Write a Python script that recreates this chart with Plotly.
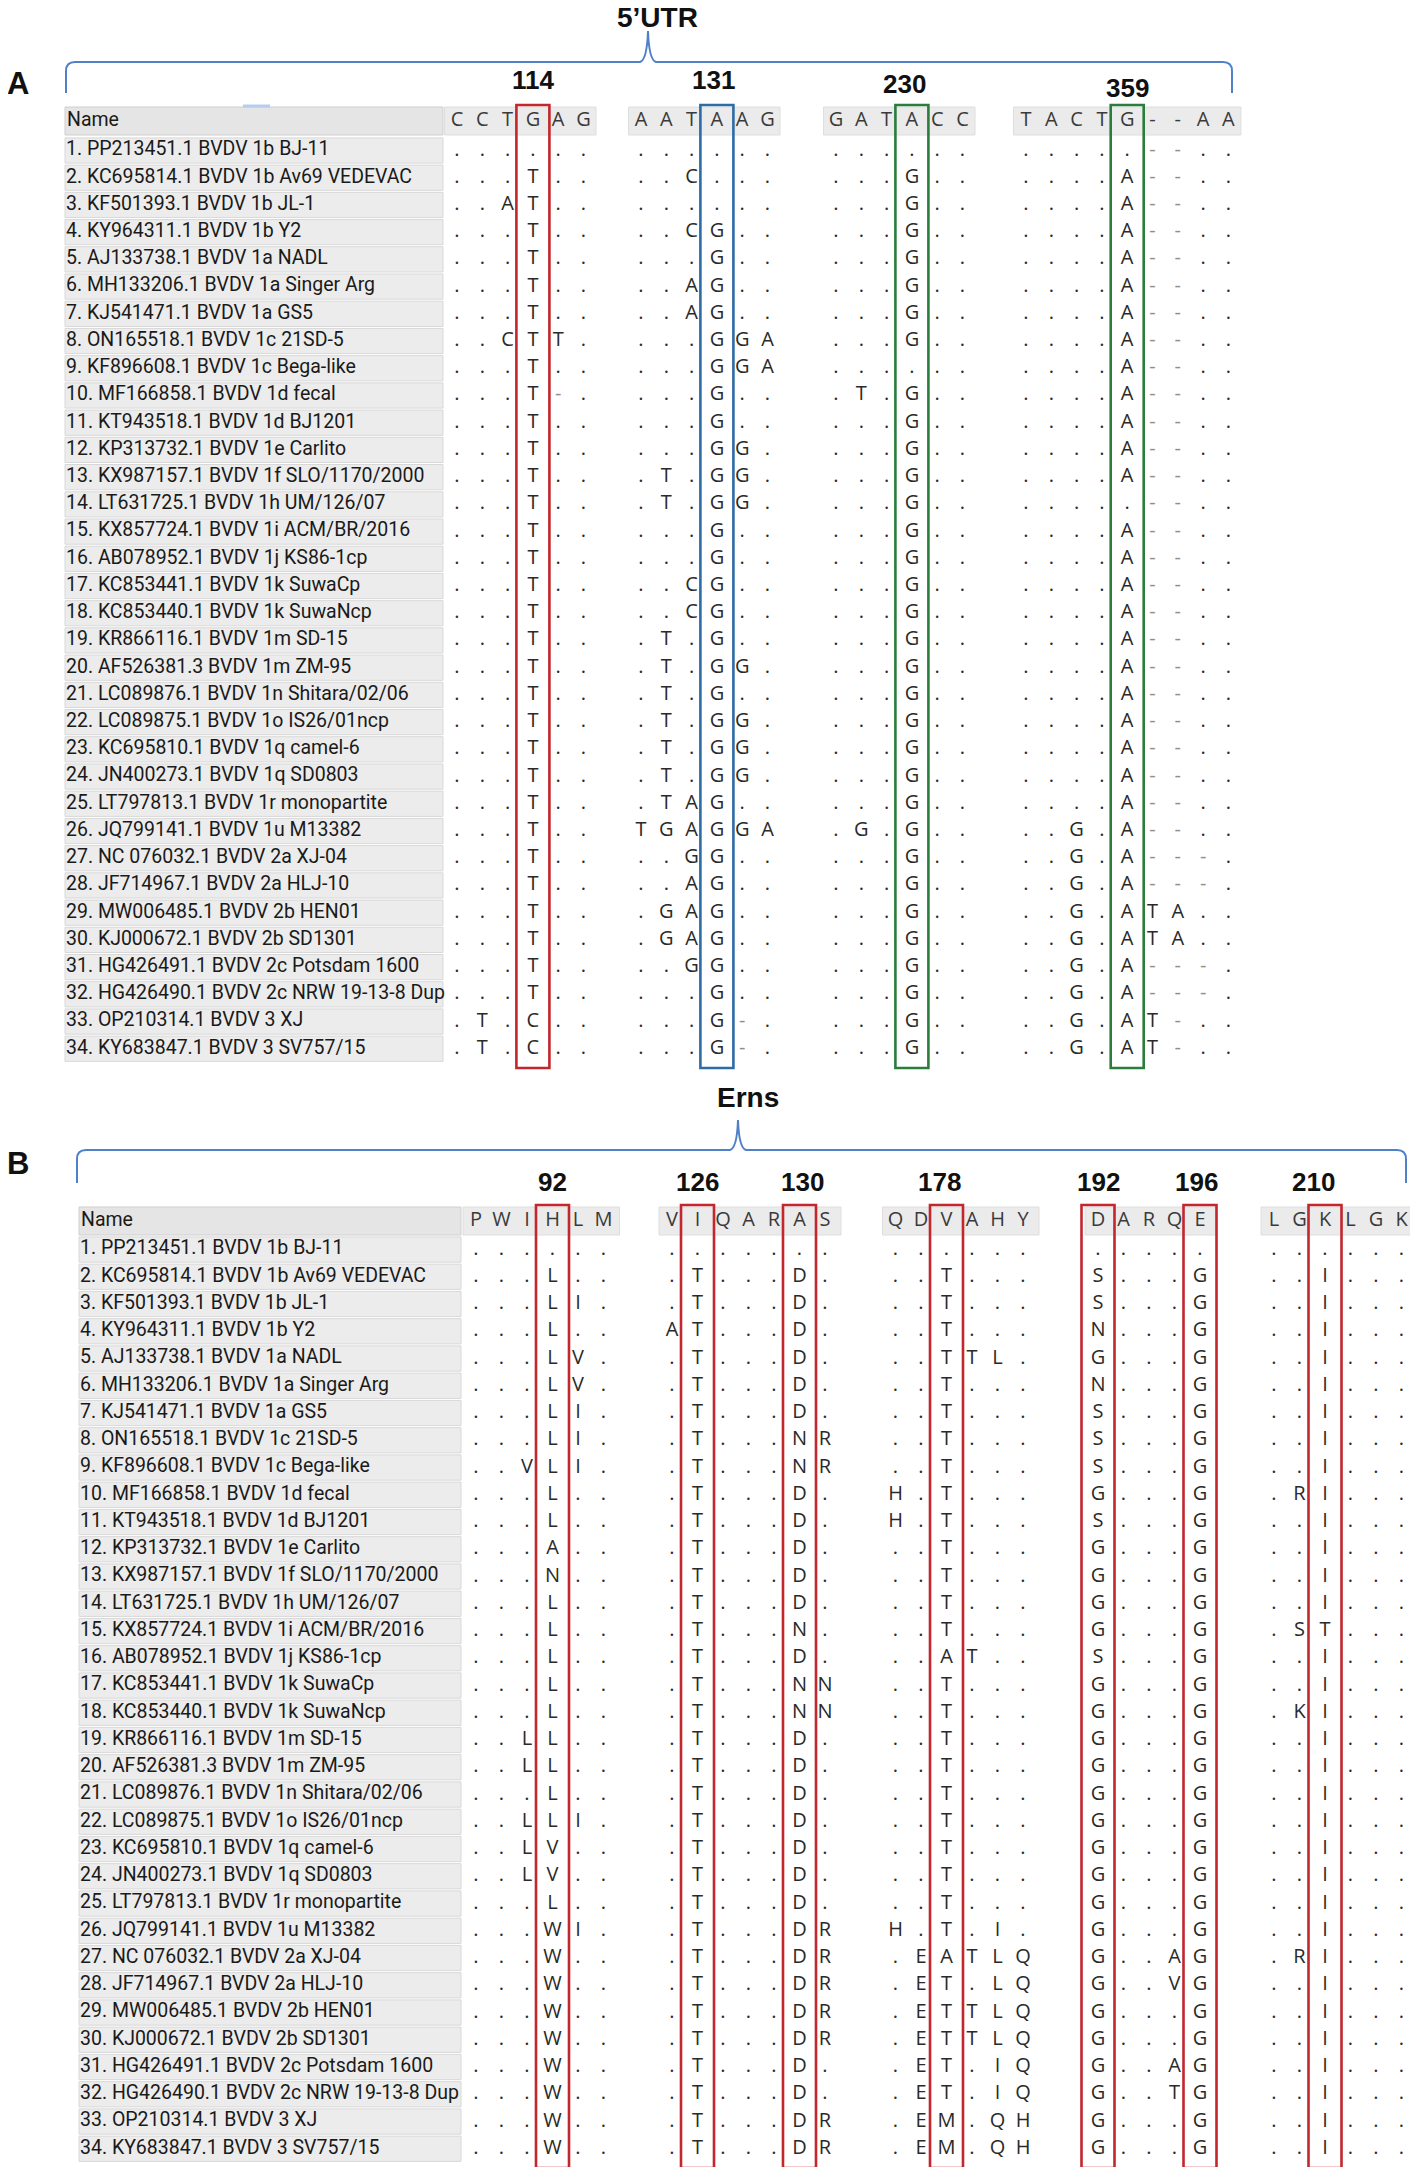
import plotly.graph_objects as go

W, H = 1418, 2175
PAGE_PAD = 8   # default body margin of the html page; the ranges below compensate for it

# ---- data -------------------------------------------------------------
names = [
    "PP213451.1 BVDV 1b BJ-11", "KC695814.1 BVDV 1b Av69 VEDEVAC",
    "KF501393.1 BVDV 1b JL-1", "KY964311.1 BVDV 1b Y2",
    "AJ133738.1 BVDV 1a NADL", "MH133206.1 BVDV 1a Singer Arg",
    "KJ541471.1 BVDV 1a GS5", "ON165518.1 BVDV 1c 21SD-5",
    "KF896608.1 BVDV 1c Bega-like", "MF166858.1 BVDV 1d fecal",
    "KT943518.1 BVDV 1d BJ1201", "KP313732.1 BVDV 1e Carlito",
    "KX987157.1 BVDV 1f SLO/1170/2000", "LT631725.1 BVDV 1h UM/126/07",
    "KX857724.1 BVDV 1i ACM/BR/2016", "AB078952.1 BVDV 1j KS86-1cp",
    "KC853441.1 BVDV 1k SuwaCp", "KC853440.1 BVDV 1k SuwaNcp",
    "KR866116.1 BVDV 1m SD-15", "AF526381.3 BVDV 1m ZM-95",
    "LC089876.1 BVDV 1n Shitara/02/06", "LC089875.1 BVDV 1o IS26/01ncp",
    "KC695810.1 BVDV 1q camel-6", "JN400273.1 BVDV 1q SD0803",
    "LT797813.1 BVDV 1r monopartite", "JQ799141.1 BVDV 1u M13382",
    "NC 076032.1 BVDV 2a XJ-04", "JF714967.1 BVDV 2a HLJ-10",
    "MW006485.1 BVDV 2b HEN01", "KJ000672.1 BVDV 2b SD1301",
    "HG426491.1 BVDV 2c Potsdam 1600", "HG426490.1 BVDV 2c NRW 19-13-8 Dup",
    "OP210314.1 BVDV 3 XJ", "KY683847.1 BVDV 3 SV757/15",
]

# 5'UTR nucleotide windows (reference row + one string per strain, groups split by space)
utr_ref = ["CCTGAG", "AATAAG", "GATACC", "TACTG--AA"]
utr_rows = [
    "...... ...... ...... .....--..",
    "...T.. ..C... ...G.. ....A--..",
    "..AT.. ...... ...G.. ....A--..",
    "...T.. ..CG.. ...G.. ....A--..",
    "...T.. ...G.. ...G.. ....A--..",
    "...T.. ..AG.. ...G.. ....A--..",
    "...T.. ..AG.. ...G.. ....A--..",
    "..CTT. ...GGA ...G.. ....A--..",
    "...T.. ...GGA ...... ....A--..",
    "...T-. ...G.. .T.G.. ....A--..",
    "...T.. ...G.. ...G.. ....A--..",
    "...T.. ...GG. ...G.. ....A--..",
    "...T.. .T.GG. ...G.. ....A--..",
    "...T.. .T.GG. ...G.. .....--..",
    "...T.. ...G.. ...G.. ....A--..",
    "...T.. ...G.. ...G.. ....A--..",
    "...T.. ..CG.. ...G.. ....A--..",
    "...T.. ..CG.. ...G.. ....A--..",
    "...T.. .T.G.. ...G.. ....A--..",
    "...T.. .T.GG. ...G.. ....A--..",
    "...T.. .T.G.. ...G.. ....A--..",
    "...T.. .T.GG. ...G.. ....A--..",
    "...T.. .T.GG. ...G.. ....A--..",
    "...T.. .T.GG. ...G.. ....A--..",
    "...T.. .TAG.. ...G.. ....A--..",
    "...T.. TGAGGA .G.G.. ..G.A--..",
    "...T.. ..GG.. ...G.. ..G.A---.",
    "...T.. ..AG.. ...G.. ..G.A---.",
    "...T.. .GAG.. ...G.. ..G.ATA..",
    "...T.. .GAG.. ...G.. ..G.ATA..",
    "...T.. ..GG.. ...G.. ..G.A---.",
    "...T.. ...G.. ...G.. ..G.A---.",
    ".T.C.. ...G-. ...G.. ..G.AT-..",
    ".T.C.. ...G-. ...G.. ..G.AT-..",
]
utr_sites = [114, 131, 230, 359]
utr_site_cols = [(0, 3), (1, 3), (2, 3), (3, 4)]   # (group, column) of each boxed site

# Erns amino-acid windows
erns_ref = ["PWIHLM", "VIQARAS", "QDVAHY", "DARQE", "LGKLGK"]
erns_rows = [
    "...... ....... ...... ..... ......",
    "...L.. .T...D. ..T... S...G ..I...",
    "...LI. .T...D. ..T... S...G ..I...",
    "...L.. AT...D. ..T... N...G ..I...",
    "...LV. .T...D. ..TTL. G...G ..I...",
    "...LV. .T...D. ..T... N...G ..I...",
    "...LI. .T...D. ..T... S...G ..I...",
    "...LI. .T...NR ..T... S...G ..I...",
    "..VLI. .T...NR ..T... S...G ..I...",
    "...L.. .T...D. H.T... G...G .RI...",
    "...L.. .T...D. H.T... S...G ..I...",
    "...A.. .T...D. ..T... G...G ..I...",
    "...N.. .T...D. ..T... G...G ..I...",
    "...L.. .T...D. ..T... G...G ..I...",
    "...L.. .T...N. ..T... G...G .ST...",
    "...L.. .T...D. ..AT.. S...G ..I...",
    "...L.. .T...NN ..T... G...G ..I...",
    "...L.. .T...NN ..T... G...G .KI...",
    "..LL.. .T...D. ..T... G...G ..I...",
    "..LL.. .T...D. ..T... G...G ..I...",
    "...L.. .T...D. ..T... G...G ..I...",
    "..LLI. .T...D. ..T... G...G ..I...",
    "..LV.. .T...D. ..T... G...G ..I...",
    "..LV.. .T...D. ..T... G...G ..I...",
    "...L.. .T...D. ..T... G...G ..I...",
    "...WI. .T...DR H.T.I. G...G ..I...",
    "...W.. .T...DR .EATLQ G..AG .RI...",
    "...W.. .T...DR .ET.LQ G..VG ..I...",
    "...W.. .T...DR .ETTLQ G...G ..I...",
    "...W.. .T...DR .ETTLQ G...G ..I...",
    "...W.. .T...D. .ET.IQ G..AG ..I...",
    "...W.. .T...D. .ET.IQ G..TG ..I...",
    "...W.. .T...DR .EM.QH G...G ..I...",
    "...W.. .T...DR .EM.QH G...G ..I...",
]
erns_sites = [92, 126, 130, 178, 192, 196, 210]
erns_site_cols = [(0, 3), (1, 1), (1, 5), (2, 2), (3, 0), (3, 4), (4, 2)]

# ---- styling / layout ----------------------------------------------------
RED, BLUE, GREEN = "#c1272d", "#2e6ca6", "#2a7d3b"
BRACE = "#4f80c8"
SEQ_FONT = "Open Sans, Noto Sans, sans-serif"
NAME_FONT = "Roboto, Noto Sans, sans-serif"
BOLD_FONT = "Liberation Sans, Arial, sans-serif"

panel_a = dict(
    title="5\u2019UTR", title_xy=(657, 17), letter="A", letter_xy=(18, 83),
    brace=(66, 1232, 648, 62, 31, 93),
    name_x=(65, 443), hdr=(107, 135), row0=150.5, row_h=27.22,
    grp_x0=[457, 641, 836, 1026], pitch=25.3, hdr_pad=(12.5, 12.5),
    box_y=(105, 1068), label_y=[80, 80, 84, 88], label_dx=[0, -3, -7, 0],
    ref=utr_ref, rows=utr_rows, sites=utr_sites, site_cols=utr_site_cols,
    colors=[RED, BLUE, GREEN, GREEN],
)
panel_b = dict(
    title="Erns", title_xy=(748, 1097), letter="B", letter_xy=(18, 1163),
    brace=(77, 1406, 738, 1150, 1120, 1183),
    name_x=(79, 461), hdr=(1207, 1235), row0=1249.5, row_h=27.25,
    grp_x0=[476, 672, 895.5, 1098, 1274], pitch=25.5, hdr_pad=(13, 16),
    box_y=(1205, 2168), label_y=[1182] * 7, label_dx=[0, 0, 3, -7, 0, -4, -12],
    ref=erns_ref, rows=erns_rows, sites=erns_sites, site_cols=erns_site_cols,
    colors=[RED] * 7,
)

fig = go.Figure()
shapes = []
annots = []


def brace_path(x0, x1, xc, yl, yp, ye, r=9, c=8):
    return (f"M {x0},{ye} L {x0},{yl + r} Q {x0},{yl} {x0 + r},{yl} "
            f"L {xc - c},{yl} Q {xc - 1},{yl - 2} {xc},{yp} "
            f"Q {xc + 1},{yl - 2} {xc + c},{yl} "
            f"L {x1 - r},{yl} Q {x1},{yl} {x1},{yl + r} L {x1},{ye}")


def draw_panel(p):
    nx0, nx1 = p["name_x"]
    h0, h1 = p["hdr"]
    ys = [p["row0"] + i * p["row_h"] for i in range(len(names))]
    half = p["row_h"] / 2

    # brace, region title and panel letter
    shapes.append(dict(type="path", path=brace_path(*p["brace"]), xref="x", yref="y",
                       line=dict(color=BRACE, width=2)))
    annots.append(dict(x=p["title_xy"][0], y=p["title_xy"][1], text=f"<b>{p['title']}</b>",
                       showarrow=False, font=dict(family=BOLD_FONT, size=28, color="#111")))
    annots.append(dict(x=p["letter_xy"][0], y=p["letter_xy"][1], text=f"<b>{p['letter']}</b>",
                       showarrow=False, font=dict(family=BOLD_FONT, size=31, color="#111")))

    # name column
    shapes.append(dict(type="rect", x0=nx0, x1=nx1, y0=h0, y1=h1, xref="x", yref="y",
                       fillcolor="#e5e5e5", line=dict(color="#cfcfcf", width=1), layer="below"))
    for y in ys:
        shapes.append(dict(type="rect", x0=nx0, x1=nx1, y0=y - half + 1, y1=y + half - 1,
                           xref="x", yref="y", fillcolor="#ececec",
                           line=dict(color="#d8d8d8", width=1), layer="below"))
    fig.add_trace(go.Scatter(
        x=[nx0 + 2] + [nx0 + 1] * len(names), y=[(h0 + h1) / 2] + ys, mode="text",
        text=["Name"] + [f"{i + 1}. {n}" for i, n in enumerate(names)],
        textposition="middle right", hoverinfo="skip",
        textfont=dict(family=NAME_FONT, size=19.5, color="#1a1a1a")))

    # column x positions per group
    col_x = [[x0 + k * p["pitch"] for k in range(len(g))] for x0, g in zip(p["grp_x0"], p["ref"])]

    # header cells with reference residues
    lp, rp = p["hdr_pad"]
    hx, hy, ht = [], [], []
    for g, xs in zip(p["ref"], col_x):
        shapes.append(dict(type="rect", x0=xs[0] - lp, x1=xs[-1] + rp, y0=h0, y1=h1,
                           xref="x", yref="y", fillcolor="#ebebeb",
                           line=dict(color="#dedede", width=1), layer="below"))
        for ch, x in zip(g, xs):
            hx.append(x)
            hy.append((h0 + h1) / 2)
            ht.append(ch)

    # alignment body
    sx, sy, st, sc = [], [], [], []
    for row, y in zip(p["rows"], ys):
        for grp, xs in zip(row.split(" "), col_x):
            for ch, x in zip(grp, xs):
                sx.append(x)
                sy.append(y)
                st.append(ch)
                sc.append("#8f8f8f" if ch == "-" else "#2a2a2a")
    fig.add_trace(go.Scatter(
        x=hx + sx, y=hy + sy, mode="text", text=ht + st, textposition="middle center",
        hoverinfo="skip",
        textfont=dict(family=SEQ_FONT, size=20, color=["#3a3a3a"] * len(ht) + sc)))

    # boxed sites and their numbers
    b0, b1 = p["box_y"]
    for (g, k), site, col, ly, dx in zip(p["site_cols"], p["sites"], p["colors"],
                                        p["label_y"], p["label_dx"]):
        cx = col_x[g][k]
        shapes.append(dict(type="rect", x0=cx - 16.5, x1=cx + 16.5, y0=b0, y1=b1,
                           xref="x", yref="y", line=dict(color=col, width=2.6)))
        annots.append(dict(x=cx + dx, y=ly, text=f"<b>{site}</b>", showarrow=False,
                           font=dict(family=BOLD_FONT, size=26, color="#111")))


draw_panel(panel_a)
draw_panel(panel_b)

# small blue tab above the name header in panel A (as in the screenshot)
shapes.append(dict(type="line", x0=243, x1=270, y0=106, y1=106, xref="x", yref="y",
                   line=dict(color="#b5cdee", width=3)))

fig.update_layout(
    width=W - 2 * PAGE_PAD, height=H - 2 * PAGE_PAD, margin=dict(l=0, r=0, t=0, b=0),
    paper_bgcolor="white", plot_bgcolor="white", showlegend=False,
    shapes=shapes, annotations=annots,
    xaxis=dict(range=[PAGE_PAD, W - PAGE_PAD], visible=False, fixedrange=True),
    yaxis=dict(range=[H - PAGE_PAD, PAGE_PAD], visible=False, fixedrange=True),
)

fig.write_html("out.html")
